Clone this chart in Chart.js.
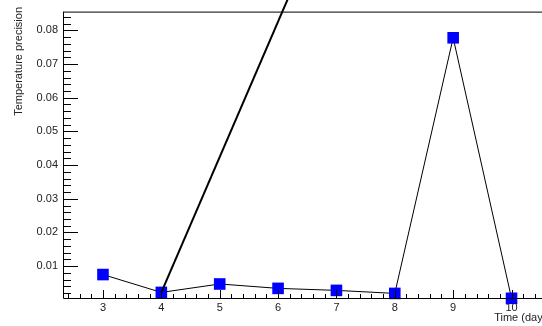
<!DOCTYPE html>
<html>
<head>
<meta charset="utf-8">
<script src="https://cdn.jsdelivr.net/npm/chart.js@4"></script>
<style>
  html, body { margin: 0; padding: 0; background: #fff; overflow: hidden; }
  #wrap { width: 560px; height: 326px; }
</style>
</head>
<body>
<div id="wrap"><canvas id="precChart" width="560" height="326"></canvas></div>
<script>
// measured values
const days = [3, 4, 5, 6, 7, 8, 9, 10];
const precision = [0.0075, 0.0022, 0.0047, 0.0034, 0.0028, 0.0019, 0.0778, 0.00045];
// the thick straight line leaving the plot through the top
const steepX = [4, 6.93];
const steepY = [0.0022, 0.12];

const xTicks = [3, 4, 5, 6, 7, 8, 9, 10];
const yTicks = [0.01, 0.02, 0.03, 0.04, 0.05, 0.06, 0.07, 0.08];

const xRange = [2.315, 10.69];
const yRange = [0.00054, 0.08557];

const font = "'Liberation Sans', Arial, sans-serif";

// ROOT style frame: ticks drawn inward, plus axis titles
const frame = {
  id: "frame",
  afterDatasetsDraw(chart) {
    const { ctx, chartArea: a, scales } = chart;
    const x = scales.x, y = scales.y;
    ctx.save();
    ctx.strokeStyle = "#000";
    ctx.lineWidth = 1;
    ctx.beginPath();
    ctx.moveTo(a.left + 0.5, a.top + 0.5);
    ctx.lineTo(a.right, a.top + 0.5);
    ctx.moveTo(a.left + 0.5, a.top);
    ctx.lineTo(a.left + 0.5, a.bottom + 0.5);
    ctx.lineTo(a.right, a.bottom + 0.5);
    // x ticks every 0.2
    for (let i = 12; i <= 53; i++) {
      const v = i / 5;
      if (v < x.min || v > x.max) continue;
      const px = Math.round(x.getPixelForValue(v)) + 0.5;
      const len = i % 5 === 0 ? 8 : 4;
      ctx.moveTo(px, a.bottom);
      ctx.lineTo(px, a.bottom - len);
    }
    // y ticks every 0.002
    for (let i = 1; i <= 43; i++) {
      const v = i * 0.002;
      if (v < y.min || v > y.max) continue;
      const py = Math.round(y.getPixelForValue(v)) + 0.5;
      const len = i % 5 === 0 ? 15 : 8;
      ctx.moveTo(a.left, py);
      ctx.lineTo(a.left + len, py);
    }
    ctx.stroke();

    ctx.fillStyle = "#222";
    ctx.font = "11px " + font;
    ctx.textAlign = "right";
    ctx.textBaseline = "middle";
    ctx.fillText("Time (days)", a.right, 318);
    ctx.translate(19, 7);
    ctx.rotate(-Math.PI / 2);
    ctx.fillText("Temperature precision", 0, 0);
    ctx.restore();
  },
};

new Chart(document.getElementById("precChart"), {
  type: "scatter",
  data: {
    datasets: [
      {
        data: steepX.map((d, i) => ({ x: d, y: steepY[i] })),
        showLine: true,
        borderColor: "#000",
        borderWidth: 2,
        pointRadius: 0,
        clip: false,
      },
      {
        data: days.map((d, i) => ({ x: d, y: precision[i] })),
        showLine: true,
        borderColor: "#000",
        borderWidth: 1,
        pointStyle: "rect",
        pointRadius: 8.2,
        pointBorderWidth: 0,
        pointBackgroundColor: "#0000ff",
        clip: false,
      },
    ],
  },
  options: {
    responsive: false,
    animation: false,
    events: [],
    layout: { padding: { top: 8, right: 8, left: 0, bottom: 0 } },
    plugins: { legend: { display: false }, tooltip: { enabled: false } },
    scales: {
      x: {
        type: "linear",
        min: xRange[0],
        max: xRange[1],
        afterBuildTicks: (s) => { s.ticks = xTicks.map((v) => ({ value: v })); },
        afterFit: (s) => { s.height = 28; },
        grid: { display: false, drawTicks: false },
        border: { display: false },
        ticks: { color: "#222", font: { family: font, size: 11 }, padding: 3, maxRotation: 0 },
      },
      y: {
        type: "linear",
        min: yRange[0],
        max: yRange[1],
        afterBuildTicks: (s) => { s.ticks = yTicks.map((v) => ({ value: v })); },
        afterFit: (s) => { s.width = 63; },
        grid: { display: false, drawTicks: false },
        border: { display: false },
        ticks: {
          color: "#222",
          font: { family: font, size: 11 },
          padding: 5,
          callback: (v) => v.toFixed(2),
        },
      },
    },
  },
  plugins: [frame],
});
</script>
</body>
</html>
